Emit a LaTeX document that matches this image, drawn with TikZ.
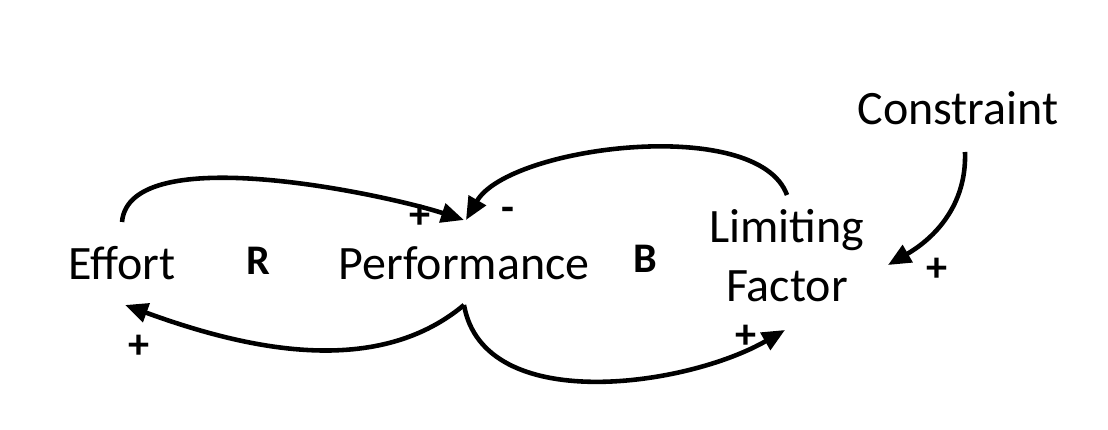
\documentclass[tikz,border=0pt]{standalone}
\usepackage{fontspec}
\setmainfont{Carlito}
\usetikzlibrary{arrows.meta}

\begin{document}
\begin{tikzpicture}[
    var/.style={font=\fontsize{27.3}{34}\selectfont, inner sep=0pt, align=center},
    loopname/.style={font=\fontsize{24}{28}\selectfont\bfseries, inner sep=0pt},
    polarity/.style={font=\fontsize{24}{28}\selectfont\bfseries, inner sep=0pt},
    link/.style={line width=2.6pt, -{Triangle[length=13pt,width=11pt]}}
  ]
  \useasboundingbox (0,0) rectangle (22.16,8.60);

  % variables
  \node[var, anchor=base] (effort) at (2.44,3.00) {Effort};
  \node[var, anchor=base] (perf) at (9.28,3.00) {Performance};
  \node[var, anchor=base] (limit) at (15.74,2.56) {Limiting\\Factor};
  \node[var, anchor=base] (constr) at (19.16,6.10) {Constraint};

  % loop names
  \node[loopname, anchor=base] (loopR) at (5.16,3.10) {R};
  \node[loopname, anchor=base] (loopB) at (12.90,3.14) {B};

  % links
  \draw[link] ([yshift=1.16cm]effort.base) to[out=85, in=162, looseness=0.62]
    ([yshift=1.20cm]perf.base);
  \draw[link] ([yshift=2.14cm]limit.base) to[out=110, in=60, looseness=0.68]
    ([xshift=0.04cm, yshift=1.20cm]perf.base);
  \draw[link] ([yshift=-0.50cm]perf.base) to[out=-140, in=-20, looseness=0.9]
    ([xshift=0.06cm, yshift=-0.50cm]effort.base);
  \draw[link] ([yshift=-0.50cm]perf.base) to[out=-80, in=-150, looseness=0.9]
    ([xshift=-0.04cm, yshift=-0.56cm]limit.base);
  \draw[link] ([xshift=0.14cm, yshift=-0.54cm]constr.base) to[out=-88, in=30]
    ([xshift=2.02cm, yshift=0.74cm]limit.base);

  % polarities
  \node[polarity] (p1) at (8.40,4.27) {+};
  \node[polarity] (p2) at (10.16,4.32) {-};
  \node[polarity] (p3) at (2.78,1.66) {+};
  \node[polarity] (p4) at (14.92,1.86) {+};
  \node[polarity] (p5) at (18.74,3.20) {+};
\end{tikzpicture}
\end{document}
